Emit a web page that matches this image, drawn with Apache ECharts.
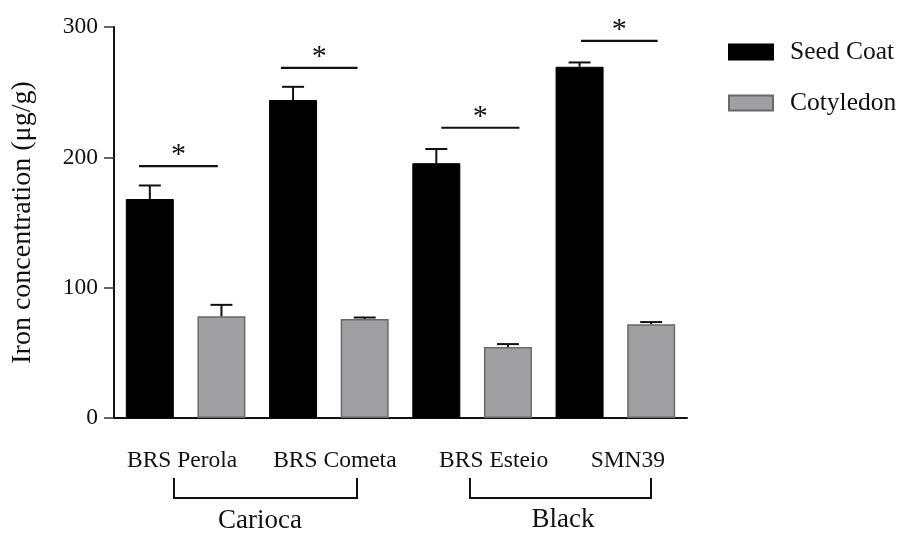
<!DOCTYPE html>
<html>
<head>
<meta charset="utf-8">
<script src="https://cdn.jsdelivr.net/npm/echarts@6/dist/echarts.min.js"></script>
<style>html,body{margin:0;padding:0;background:#fff;}#c{width:899px;height:533px;}</style>
</head>
<body>
<div id="c"></div>
<script>
// ---- data ----
var cultivars = ['BRS Perola', 'BRS Cometa', 'BRS Esteio', 'SMN39'];
var seedCoat = [168, 244, 195.5, 269.5];
var seedCoatSD = [10.4, 10.1, 10.9, 3.3];
var cotyledon = [78, 76, 54.5, 72];
var cotyledonSD = [8.8, 1.1, 2.2, 1.6];
var groups = ['Carioca', 'Black'];
var yTicks = [0, 100, 200, 300];
// significance bars: [start slot, end slot, y value]
var sigBars = [
  [-0.15, 0.95, 193.3],
  [1.83, 2.90, 268.7],
  [4.07, 5.16, 222.7],
  [6.02, 7.09, 289.3]
];

var FONT = 'Liberation Serif';
var slots = [];
var seedData = [], cotData = [], errData = [];
cultivars.forEach(function (c, i) {
  slots.push(c + ' Seed Coat', c + ' Cotyledon');
  seedData.push(seedCoat[i], '-');
  cotData.push('-', cotyledon[i]);
  errData.push([2 * i, seedCoat[i], seedCoat[i] + seedCoatSD[i]]);
  errData.push([2 * i + 1, cotyledon[i], cotyledon[i] + cotyledonSD[i]]);
});

var shifts = [[0, 7, 0, 0], [0, 0, 0, 12], [0, 0, 0, 43], [0, 0, 0, 25]];
var rich = {};
shifts.forEach(function (p, i) {
  rich['s' + i] = { fontFamily: FONT, fontSize: 23.5, color: '#111', padding: p };
});

var chart = echarts.init(document.getElementById('c'));
chart.setOption({
  animation: false,
  backgroundColor: '#fff',
  grid: { left: 114, right: 212, top: 27, bottom: 115, containLabel: false },
  legend: {
    data: ['Seed Coat', 'Cotyledon'],
    orient: 'vertical',
    left: 723, top: 34,
    itemWidth: 44, itemHeight: 15, itemGap: 25,
    icon: 'rect',
    textStyle: { fontFamily: FONT, fontSize: 25.5, color: '#111', padding: [0, 0, 0, 12] }
  },
  xAxis: [
    {
      type: 'category', data: slots, position: 'bottom',
      axisLine: { onZero: false, lineStyle: { color: '#111', width: 2 } },
      axisTick: { alignWithLabel: true, length: 9, lineStyle: { color: '#333', width: 1.5 } },
      axisLabel: { show: false },
      splitLine: { show: false }
    },
    {
      type: 'category', data: cultivars, position: 'bottom',
      axisLine: { show: false }, axisTick: { show: false },
      axisLabel: {
        margin: 31,
        formatter: function (v, i) { return '{s' + i + '|' + v + '}'; },
        rich: rich
      },
      splitLine: { show: false }
    },
    { type: 'value', min: -0.5, max: 7.5, show: false, position: 'top' }
  ],
  yAxis: {
    type: 'value', min: yTicks[0], max: yTicks[yTicks.length - 1], interval: 100,
    name: 'Iron concentration (\u03bcg/g)',
    nameLocation: 'middle', nameGap: 77, nameRotate: 90,
    nameTextStyle: { fontFamily: FONT, fontSize: 28, color: '#111' },
    axisLine: { show: true, onZero: false, lineStyle: { color: '#111', width: 2 } },
    axisTick: { show: true, length: 10, lineStyle: { color: '#333', width: 1.5 } },
    axisLabel: { margin: 16, fontFamily: FONT, fontSize: 23.5, color: '#111' },
    splitLine: { show: false }
  },
  series: [
    {
      name: 'Seed Coat', type: 'bar', xAxisIndex: 0, data: seedData,
      barWidth: 48, barGap: '-100%',
      itemStyle: { color: '#000', borderColor: '#000', borderWidth: 1 }
    },
    {
      name: 'Cotyledon', type: 'bar', xAxisIndex: 0, data: cotData,
      barWidth: 48, barGap: '-100%',
      itemStyle: { color: '#a0a0a3', borderColor: '#6a6a6a', borderWidth: 1.5 }
    },
    {
      type: 'custom', xAxisIndex: 0, data: errData, z: 5,
      renderItem: function (params, api) {
        var x = api.value(0);
        var p0 = api.coord([x, api.value(1)]);
        var p1 = api.coord([x, api.value(2)]);
        var style = { stroke: '#111', lineWidth: 2 };
        return {
          type: 'group',
          children: [
            { type: 'line', shape: { x1: p0[0], y1: p0[1], x2: p1[0], y2: p1[1] }, style: style },
            { type: 'line', shape: { x1: p1[0] - 11, y1: p1[1], x2: p1[0] + 11, y2: p1[1] }, style: style }
          ]
        };
      }
    },
    {
      type: 'custom', xAxisIndex: 2, data: sigBars, z: 5,
      renderItem: function (params, api) {
        var a = api.coord([api.value(0), api.value(2)]);
        var b = api.coord([api.value(1), api.value(2)]);
        return {
          type: 'group',
          children: [
            { type: 'line', shape: { x1: a[0], y1: a[1], x2: b[0], y2: b[1] }, style: { stroke: '#111', lineWidth: 2.2 } },
            { type: 'text', x: (a[0] + b[0]) / 2, y: a[1] + 4,
              style: { text: '*', fill: '#111', font: '30px "' + FONT + '"', align: 'center', verticalAlign: 'bottom' } }
          ]
        };
      }
    }
  ],
  graphic: [
    { type: 'polyline', shape: { points: [[174, 478], [174, 498], [357, 498], [357, 478]] }, style: { stroke: '#111', lineWidth: 2, fill: null } },
    { type: 'polyline', shape: { points: [[470, 478], [470, 498], [651, 498], [651, 478]] }, style: { stroke: '#111', lineWidth: 2, fill: null } },
    { type: 'text', x: 260, y: 521, style: { text: groups[0], fill: '#111', font: '27px "' + FONT + '"', align: 'center', verticalAlign: 'middle' } },
    { type: 'text', x: 563, y: 520, style: { text: groups[1], fill: '#111', font: '27px "' + FONT + '"', align: 'center', verticalAlign: 'middle' } }
  ]
});
</script>
</body>
</html>
